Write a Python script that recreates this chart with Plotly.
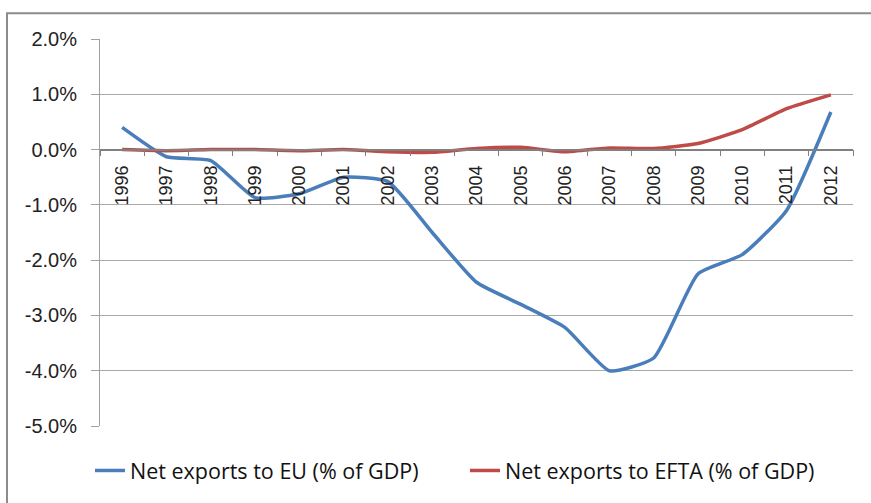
import plotly.graph_objects as go

years = [str(y) for y in range(1996, 2013)]
eu = [0.40, -0.13, -0.20, -0.87, -0.80, -0.50, -0.58, -1.50, -2.40, -2.80, -3.22,
      -4.00, -3.77, -2.25, -1.90, -1.10, 0.68]
efta = [0.00, -0.02, 0.00, 0.00, -0.02, 0.00, -0.04, -0.05, 0.02, 0.04, -0.04,
        0.03, 0.02, 0.11, 0.36, 0.74, 0.99]
y_ticks = [2, 1, 0, -1, -2, -3, -4, -5]
y_tick_text = ["2.0%", "1.0%", "0.0%", "-1.0%", "-2.0%", "-3.0%", "-4.0%", "-5.0%"]

legend_font = "Open Sans, Liberation Sans, sans-serif"

fig = go.Figure()
fig.add_trace(go.Scatter(x=years, y=eu, mode="lines", name="Net exports to EU (% of GDP)",
                         line=dict(color="#4a7ebb", width=3.5, shape="spline", smoothing=0.5)))
fig.add_trace(go.Scatter(x=years, y=efta, mode="lines", name="Net exports to EFTA (% of GDP)",
                         line=dict(color="#be4b48", width=3.5, shape="spline", smoothing=0.5)))

fig.update_layout(
    width=871, height=503,
    margin=dict(l=100, r=18, t=39, b=75),
    paper_bgcolor="white", plot_bgcolor="white",
    font=dict(family="Liberation Sans, Arial, sans-serif", size=18, color="#222"),
    showlegend=True,
    legend=dict(orientation="h", x=(90 - 100) / 753, xanchor="left", y=-0.115, yanchor="middle",
                font=dict(family=legend_font, size=21.5, color="#111"),
                entrywidth=330, itemwidth=30, tracegroupgap=0),
    xaxis=dict(type="category", anchor="free", position=5/7, tickangle=-90,
               showline=True, linecolor="#808080", linewidth=1.5,
               ticks="outside", ticklen=6, tickcolor="#808080", tickson="boundaries",
               ticklabelstandoff=8,
               showgrid=False, zeroline=False, range=[-0.5, 16.5],
               tickfont=dict(size=18, color="#222")),
    yaxis=dict(range=[-5, 2], tickvals=y_ticks, ticktext=y_tick_text,
               showline=True, linecolor="#a0a0a0", linewidth=1,
               ticks="outside", ticklen=8, tickcolor="#a0a0a0",
               ticklabelstandoff=10,
               showgrid=True, gridcolor="#a8a8a8", gridwidth=1, zeroline=False,
               tickfont=dict(size=20, color="#222")),
    shapes=[dict(type="rect", xref="paper", yref="paper",
                 x0=(7 - 100) / 753, x1=1.3, y0=-0.5, y1=1 + (39 - 13) / 389,
                 line=dict(color="#8c8c8c", width=2), fillcolor="rgba(0,0,0,0)", layer="below")],
)

fig.write_html("out.html")
